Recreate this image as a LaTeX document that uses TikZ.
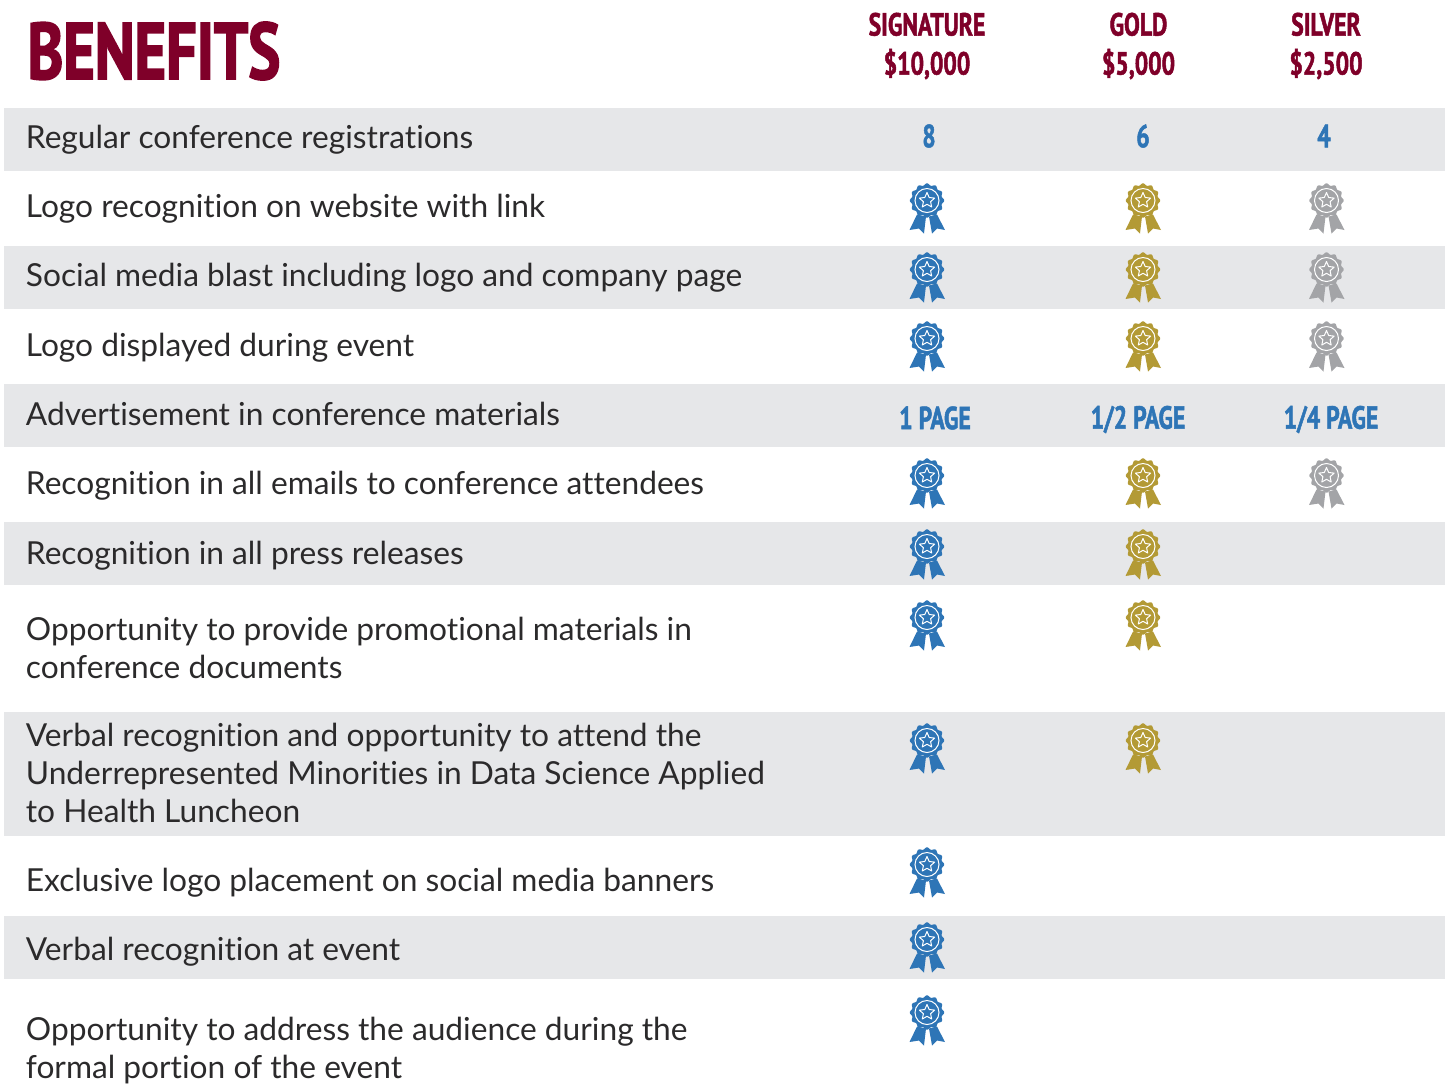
\documentclass[tikz,border=0pt]{standalone}
\usepackage{fontspec}
\setmainfont[Ligatures=CommonOff]{Lato}
\newfontfamily\cond[FakeStretch=0.74,FakeBold=1.5]{PT Sans Bold}
\newfontfamily\condt[FakeStretch=0.755,FakeBold=2]{PT Sans Bold}
\definecolor{maroon}{HTML}{7F0029}
\definecolor{band}{HTML}{E6E7E9}
\definecolor{ink}{HTML}{2B2A2B}
\definecolor{sigblue}{HTML}{2E75B6}
\definecolor{goldc}{HTML}{B39A35}
\definecolor{silverc}{HTML}{A3A4A7}
\tikzset{
  x=0.5pt,y=-0.5pt,
  bandrow/.style={fill=band,draw=none},
  rowtext/.style={anchor=base west,inner sep=0pt,text=ink,font=\fontsize{15.85}{18.9}\selectfont,align=left},
  title/.style={anchor=center,inner sep=0pt,text=maroon,font=\fontsize{40}{40}\condt\selectfont},
  tier/.style={anchor=center,inner sep=0pt,text=maroon,font=\fontsize{16}{19.5}\cond\selectfont,align=center},
  val/.style={anchor=center,inner sep=0pt,text=sigblue,font=\fontsize{16}{16}\cond\selectfont},
  pics/medal/.style={code={
    \fill[#1] plot[domain=0:360,samples=145,smooth] ({(16.2+1*cos(12*\x))*cos(\x)},{(16.2+1*cos(12*\x))*sin(\x)});
    \draw[white,line width=0.5pt] (0,0) circle (12);
    \draw[white,line width=0.5pt,line join=round] (0,-8)--(2.2,-3)--(7.6,-2.4)--(3.6,1.2)--(4.7,6.5)--(0,3.8)--(-4.7,6.5)--(-3.6,1.2)--(-7.6,-2.4)--(-2.2,-3)--cycle;
    \fill[#1] (-10,14)--(-1,16)--(-3,33)--(-8,28)--(-17.5,29.5)--cycle;
    \fill[#1] (2,16)--(10,14)--(18,29.5)--(10,28)--(5,33)--cycle;
  }}
}
\begin{document}
\begin{tikzpicture}
\useasboundingbox (0,0) rectangle (1448,1084);
\foreach \a/\b in {108/171,246/309,384/447,522/585,712/836,916/979}
  \fill[bandrow] (4,\a) rectangle (1445,\b);

\node[title] (ttl) at (154,51) {BENEFITS};
\node[tier] (t1) at (927,46) {SIGNATURE\\\$10,000};
\node[tier] (t2) at (1138.5,46) {GOLD\\\$5,000};
\node[tier] (t3) at (1326,46) {SILVER\\\$2,500};

\node[rowtext] (r1) at (25.5,148) {Regular conference registrations};
\node[rowtext] (r2) at (25.5,217) {Logo recognition on website with link};
\node[rowtext] (r3) at (25.5,286) {Social media blast including logo and company page};
\node[rowtext] (r4) at (25.5,356) {Logo displayed during event};
\node[rowtext] (r5) at (25.5,425) {Advertisement in conference materials};
\node[rowtext] (r6) at (25.5,494) {Recognition in all emails to conference attendees};
\node[rowtext] (r7) at (25.5,564) {Recognition in all press releases};
\node[rowtext] (r8) at (25.5,678) {Opportunity to provide promotional materials in\\conference documents};
\node[rowtext] (r9) at (25.5,822) {Verbal recognition and opportunity to attend the\\Underrepresented Minorities in Data Science Applied\\to Health Luncheon};
\node[rowtext] (r10) at (25.5,891) {Exclusive logo placement on social media banners};
\node[rowtext] (r11) at (25.5,960) {Verbal recognition at event};
\node[rowtext] (r12) at (25.5,1078) {Opportunity to address the audience during the\\formal portion of the event};

\node[val] (v1) at (929,136) {8};
\node[val] (v2) at (1143,136) {6};
\node[val] (v3) at (1324,136) {4};
\node[val] (p1) at (935,418) {1 PAGE};
\node[val] (p2) at (1138,419.5) {1/2 PAGE};
\node[val] (p3) at (1331,419.5) {1/4 PAGE};

\foreach \y in {200.5,269.5,338.5,475.5,546.5,617.5,740.5,864.5,939.5,1012.5}
  \pic at (927,\y) {medal=sigblue};
\foreach \y in {200.5,269.5,338.5,475.5,546.5,617.5,740.5}
  \pic at (1143,\y) {medal=goldc};
\foreach \y in {200.5,269.5,338.5,475.5}
  \pic at (1326.5,\y) {medal=silverc};
\end{tikzpicture}
\end{document}
